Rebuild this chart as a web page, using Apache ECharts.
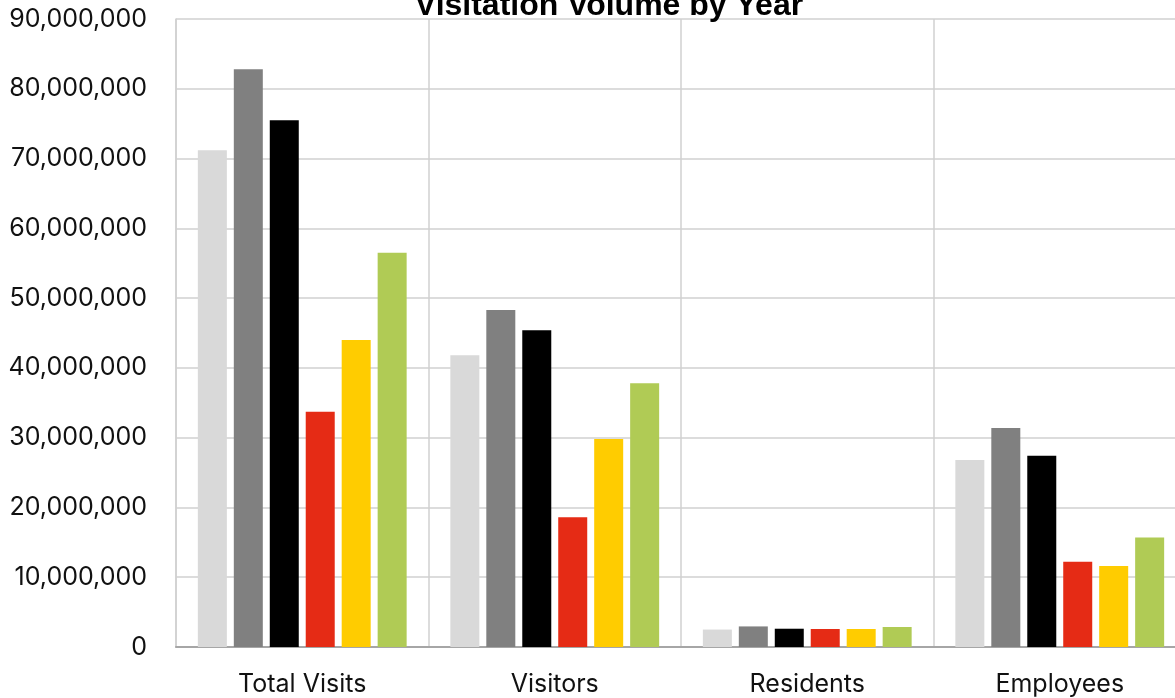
<!DOCTYPE html>
<html>
<head>
<meta charset="utf-8">
<style>
  html, body { margin: 0; padding: 0; background: #ffffff; }
  #chart { width: 1175px; height: 698px; }
</style>
<script src="https://cdn.jsdelivr.net/npm/echarts@6/dist/echarts.min.js"></script>
</head>
<body>
<div id="chart"></div>
<script>
// Visit counts per group, one array per year series
const categories = ['Total Visits', 'Visitors', 'Residents', 'Employees'];
const seriesNames = ['Year 1', 'Year 2', 'Year 3', 'Year 4', 'Year 5', 'Year 6'];
const year1 = [71200000, 41800000, 2500000, 26800000];
const year2 = [82800000, 48300000, 2950000, 31400000];
const year3 = [75500000, 45400000, 2620000, 27400000];
const year4 = [33700000, 18600000, 2580000, 12200000];
const year5 = [44000000, 29800000, 2580000, 11600000];
const year6 = [56500000, 37800000, 2870000, 15700000];
const yTicks = [0, 10000000, 20000000, 30000000, 40000000, 50000000, 60000000, 70000000, 80000000, 90000000];
const colors = ['#d9d9d9', '#808080', '#000000', '#e52b15', '#ffcc00', '#b0cb55'];

const values = [year1, year2, year3, year4, year5, year6];
const fmt = v => String(v).replace(/\B(?=(\d{3})+(?!\d))/g, ',');

const chart = echarts.init(document.getElementById('chart'), null, { renderer: 'canvas' });
chart.setOption({
  animation: false,
  backgroundColor: '#ffffff',
  title: {
    text: 'Visitation Volume by Year',
    left: 604,
    top: -15,
    textAlign: 'center',
    textStyle: { fontFamily: 'Liberation Sans', fontWeight: 'bold', fontSize: 32, color: '#000000' }
  },
  // the plot runs past the right edge of the page
  grid: { left: 176, top: 19, width: 1010, height: 628, containLabel: false, outerBoundsMode: 'none' },
  xAxis: {
    type: 'category',
    data: categories,
    axisTick: { show: false },
    axisLine: { show: true, lineStyle: { color: '#a6a6a6', width: 2 } },
    splitLine: { show: true, lineStyle: { color: '#d0d0d0', width: 1.5 } },
    axisLabel: { fontFamily: 'Inter', fontSize: 25, color: '#111111', margin: 25 }
  },
  yAxis: {
    type: 'value',
    min: yTicks[0],
    max: yTicks[yTicks.length - 1],
    interval: yTicks[1] - yTicks[0],
    axisLine: { show: true, lineStyle: { color: '#d0d0d0', width: 1.5 } },
    axisTick: { show: false },
    splitLine: { show: true, lineStyle: { color: '#d0d0d0', width: 1.5 } },
    axisLabel: { fontFamily: 'Inter', fontSize: 25, color: '#111111', margin: 29, formatter: fmt }
  },
  series: seriesNames.map((name, i) => ({
    name: name,
    type: 'bar',
    data: values[i],
    barWidth: 29,
    barGap: '24%',
    itemStyle: { color: colors[i] }
  }))
});
</script>
</body>
</html>
